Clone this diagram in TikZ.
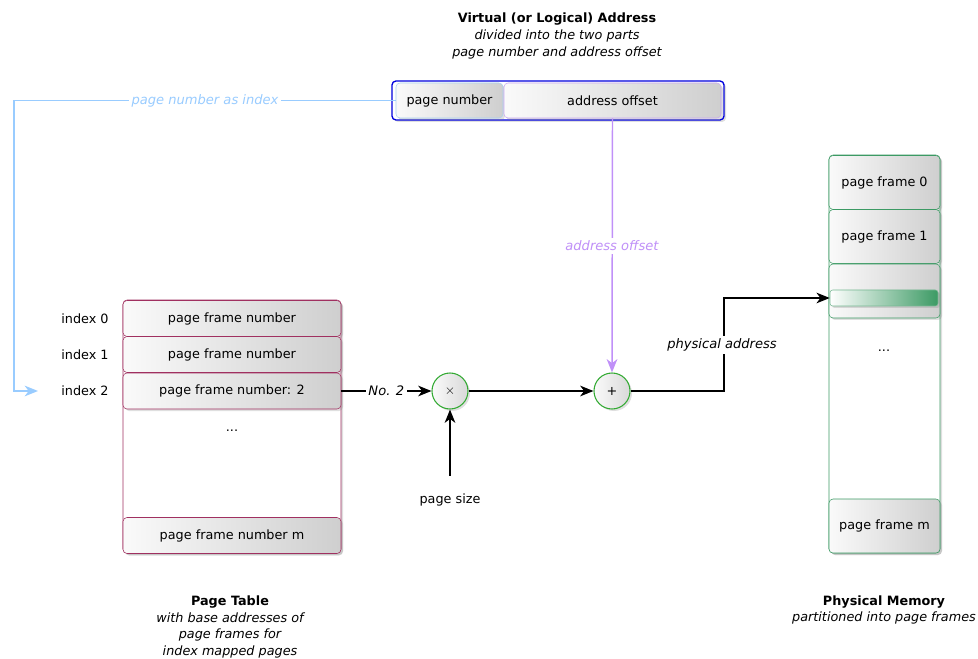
\documentclass[tikz,border=0pt]{standalone}
\usepackage{fontspec}
\setmainfont{DejaVu Sans}
\usetikzlibrary{arrows.meta,shadows}
\definecolor{vblue}{HTML}{0000DD}
\definecolor{pnblue}{HTML}{A8D0F0}
\definecolor{lblblue}{HTML}{99CCFF}
\definecolor{aopurple}{HTML}{C8A8F0}
\definecolor{linepurple}{HTML}{C090F8}
\definecolor{maroon}{HTML}{A03060}
\definecolor{cgreen}{HTML}{33AA33}
\definecolor{mgreen}{HTML}{3C9A64}
\begin{document}
\begin{tikzpicture}[x=0.75pt,y=-0.75pt,
  font=\fontsize{9.6}{11.5}\selectfont,
  shad/.style={drop shadow={opacity=0.25,shadow xshift=1.5pt,shadow yshift=-1.5pt}},
  cell/.style={shape=rectangle,rounded corners=3pt,inner sep=0pt,shad,
    left color=gray!4,right color=gray!38},
  ptcell/.style={cell,draw=maroon,minimum width=163.5pt,minimum height=27pt},
  mcell/.style={cell,draw=mgreen,minimum width=83.25pt,minimum height=40.5pt},
  opcircle/.style={circle,draw=cgreen,thick,minimum size=27pt,inner sep=0pt,shad,
    left color=gray!4,right color=gray!30},
  outer/.style={rounded corners=3pt,fill=white,inner sep=0pt},
  lbl/.style={fill=white,inner sep=2pt,font=\fontsize{9.8}{11.5}\selectfont\itshape},
  tip/.style={-{Stealth[length=10pt,width=8pt,inset=3pt]}},
  arr/.style={tip,line width=0.9pt},
  ttl/.style={align=center,font=\fontsize{9.6}{12.4}\selectfont}
]
\useasboundingbox (0,0) rectangle (978,659);

% titles
\node[ttl] (vtitle) at (557,36) {\textbf{Virtual (or Logical) Address}\\\itshape divided into the two parts\\\itshape page number and address offset};
\node[ttl] (pttitle) at (230,627) {\textbf{Page Table}\\\itshape with base addresses of\\\itshape page frames for\\\itshape index mapped pages};
\node[ttl] (pmtitle) at (884,610) {\textbf{Physical Memory}\\\itshape partitioned into page frames};

% virtual address
\node[outer,draw=vblue,line width=1pt,minimum width=249pt,minimum height=29.25pt,shad] (vaddr) at (558,100.5) {};
\node[cell,draw=pnblue,minimum width=80.25pt,minimum height=26.25pt,drop shadow={opacity=0}] (pnum) at (449.5,100.5) {page number};
\node[cell,draw=aopurple,minimum width=162.75pt,minimum height=26.25pt,drop shadow={opacity=0}] (aoff) at (612.5,100.5) {address offset};

% page table
\node[outer,draw=maroon,minimum width=163.5pt,minimum height=189.75pt,shad] (pt) at (232,426.5) {};
\node[ptcell] (row0) at (232,318.5) {page frame number};
\node[ptcell] (row1) at (232,354.5) {page frame number};
\node[ptcell] (row2) at (232,391) {page frame number: 2};
\node (ptdots) at (232,431) {...};
\node[ptcell] (rowm) at (232,535.5) {page frame number m};
\node (idx0) at (85,319) {index 0};
\node (idx1) at (85,355) {index 1};
\node (idx2) at (85,391) {index 2};

% physical memory
\node[outer,draw=mgreen,minimum width=83.25pt,minimum height=298.5pt,shad] (pm) at (884.5,354) {};
\node[mcell] (pf0) at (884.5,182.5) {page frame 0};
\node[mcell] (pf1) at (884.5,236.5) {page frame 1};
\node[mcell] (pf2) at (884.5,291) {};
\node[shape=rectangle,rounded corners=2pt,inner sep=0pt,minimum width=81pt,minimum height=12pt,
  left color=white,right color=mgreen,draw=mgreen!70,shad] (strip) at (884,298) {};
\node (pmdots) at (884,351) {...};
\node[mcell] (pfm) at (884.5,526) {page frame m};

% operators
\node[opcircle] (times) at (450,391) {$\times$};
\node[opcircle] (plus) at (612,391) {+};
\node (psize) at (450,500) {page size};

% connectors
\coordinate (bcorner) at (14,391);
\coordinate (bend) at (38,391);
\draw[lblblue,line width=1.1pt,tip] (pnum.west) -| (bcorner) -- (bend);
\node[lbl,text=lblblue] (pnlbl) at (205,101) {page number as index};

\draw[linepurple,line width=1.1pt,tip] (aoff.south) -- (plus.north);
\node[lbl,text=linepurple] (aolbl) at (612,246) {address offset};

\draw[arr] (row2.east) -- node[lbl] (no2) {No. 2} (times.west);
\draw[arr,shorten <=10pt] (psize.north) -- (times.south);
\draw[arr] (times.east) -- (plus.west);
\coordinate (pacorner) at (724,391);
\draw[arr] (plus.east) -- (pacorner) |- (strip.west);
\node[lbl] (palbl) at (722,345) {physical address};
\end{tikzpicture}
\end{document}
